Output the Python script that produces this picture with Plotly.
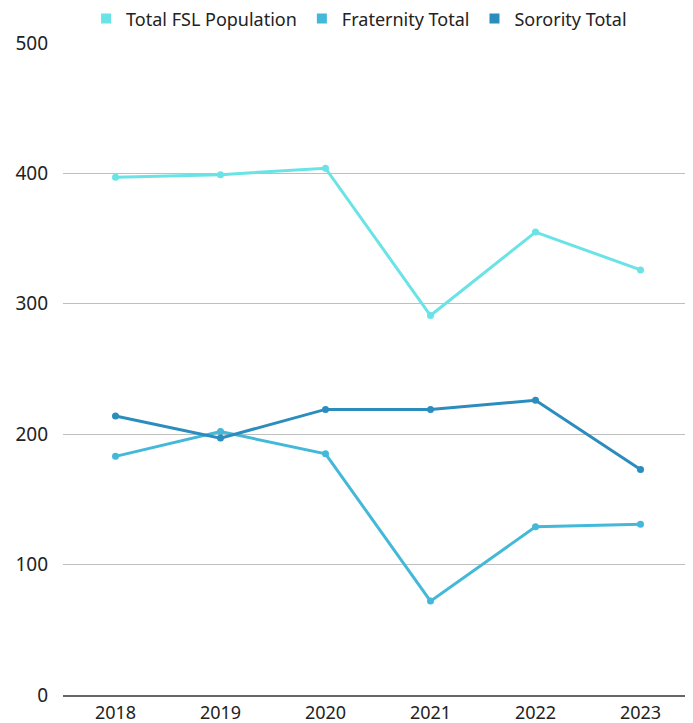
import plotly.graph_objects as go

years = ["2018", "2019", "2020", "2021", "2022", "2023"]
total_fsl = [397, 399, 404, 291, 355, 326]
fraternity = [183, 202, 185, 72, 129, 131]
sorority = [214, 197, 219, 219, 226, 173]

names = ["Total FSL Population", "Fraternity Total", "Sorority Total"]
colors = ["#6ae3e6", "#44b8d8", "#2b8cbe"]
series = [total_fsl, fraternity, sorority]

fig = go.Figure()
for name, vals, c in zip(names, series, colors):
    fig.add_trace(go.Scatter(x=years, y=vals, mode="lines+markers", name=name,
                             line=dict(color=c, width=3), marker=dict(color=c, size=7),
                             showlegend=False))
for name, c in zip(names, colors):
    fig.add_trace(go.Scatter(x=[None], y=[None], mode="markers", name=name,
                             marker=dict(color=c, size=10, symbol="square")))

font = "Noto Sans, Open Sans, sans-serif"
fig.update_layout(
    width=685, height=715,
    margin=dict(l=55, r=0, t=35, b=28, autoexpand=False),
    plot_bgcolor="white", paper_bgcolor="white",
    font=dict(family=font, size=19, color="#222222"),
    legend=dict(orientation="h", x=0.47, xanchor="center", y=1.037, yanchor="middle",
                font=dict(size=18)),
    xaxis=dict(type="category", range=[-0.5, len(years) - 0.5], showgrid=False,
               showline=True, linecolor="#666666",
               linewidth=2, ticks="", tickfont=dict(size=18), fixedrange=True,
               ticklabelstandoff=0),
    yaxis=dict(range=[0, 500], dtick=100, showgrid=True, gridcolor="#bfbfbf",
               gridwidth=1, zeroline=False, ticks="", tickfont=dict(size=19),
               ticklabelstandoff=14),
)
fig.write_html("out.html")
